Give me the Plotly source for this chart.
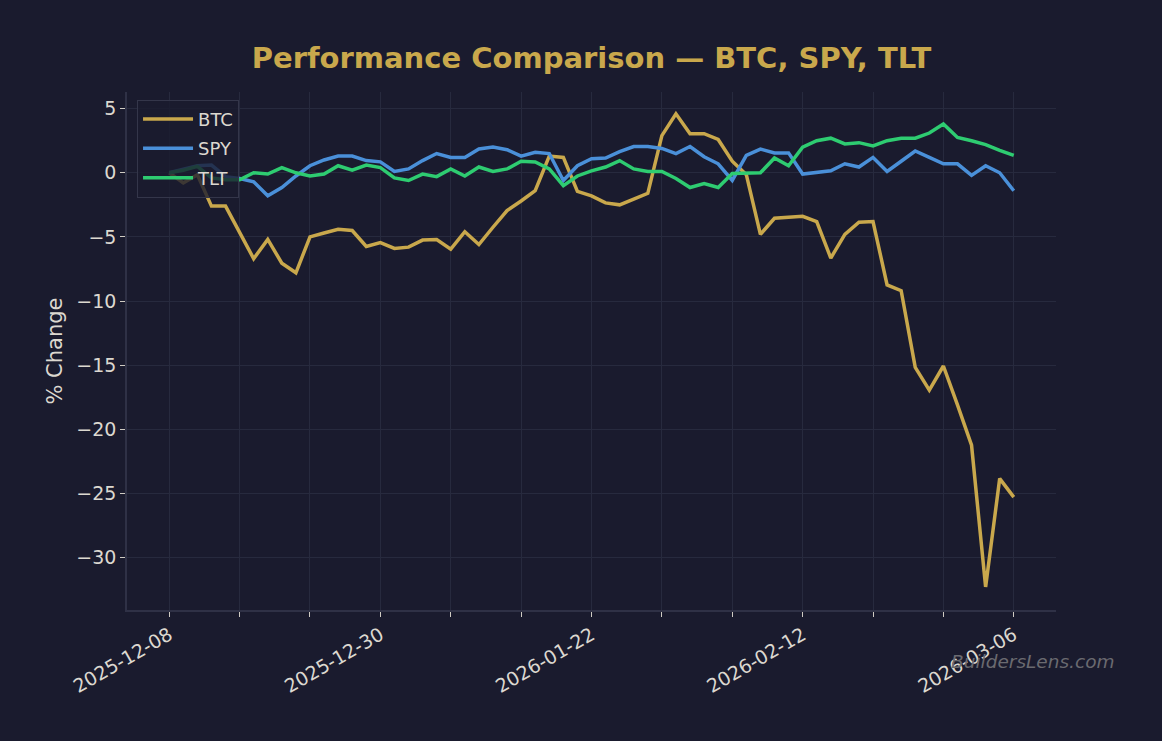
import plotly.graph_objects as go

dates = [
    "2025-12-08", "2025-12-09", "2025-12-10", "2025-12-11", "2025-12-12",
    "2025-12-15", "2025-12-16", "2025-12-17", "2025-12-18", "2025-12-19",
    "2025-12-22", "2025-12-23", "2025-12-24", "2025-12-26", "2025-12-29",
    "2025-12-30", "2025-12-31", "2026-01-02", "2026-01-05", "2026-01-06",
    "2026-01-07", "2026-01-08", "2026-01-09", "2026-01-12", "2026-01-13",
    "2026-01-14", "2026-01-15", "2026-01-16", "2026-01-20", "2026-01-21",
    "2026-01-22", "2026-01-23", "2026-01-26", "2026-01-27", "2026-01-28",
    "2026-01-29", "2026-01-30", "2026-02-02", "2026-02-03", "2026-02-04",
    "2026-02-05", "2026-02-06", "2026-02-09", "2026-02-10", "2026-02-11",
    "2026-02-12", "2026-02-13", "2026-02-17", "2026-02-18", "2026-02-19",
    "2026-02-20", "2026-02-23", "2026-02-24", "2026-02-25", "2026-02-26",
    "2026-02-27", "2026-03-02", "2026-03-03", "2026-03-04", "2026-03-05",
    "2026-03-06",
]

btc = [0, -0.8, -0.15, -2.6, -2.6, -4.7, -6.7, -5.2, -7.05, -7.8,
       -5.0, -4.7, -4.4, -4.5, -5.75, -5.45, -5.9, -5.8, -5.25, -5.2,
       -5.95, -4.6, -5.6, -4.25, -2.95, -2.2, -1.4, 1.3, 1.2, -1.45,
       -1.8, -2.35, -2.5, -2.05, -1.6, 2.9, 4.6, 3.05, 3.05, 2.6,
       0.9, -0.15, -4.8, -3.55, -3.45, -3.4, -3.8, -6.65, -4.8, -3.85,
       -3.8, -8.75, -9.2, -15.18, -16.95, -15.07, -18.1, -21.25, -32.3, -23.85,
       -25.3]

spy = [0, 0.3, 0.55, 0.6, -0.3, -0.45, -0.7, -1.8, -1.15, -0.25,
       0.55, 1.0, 1.3, 1.3, 0.95, 0.85, 0.1, 0.3, 0.95, 1.5,
       1.2, 1.2, 1.85, 2.0, 1.8, 1.3, 1.6, 1.5, -0.6, 0.55,
       1.1, 1.15, 1.65, 2.05, 2.05, 1.9, 1.5, 2.05, 1.25, 0.7,
       -0.6, 1.35, 1.85, 1.55, 1.55, -0.1, 0.0, 0.15, 0.7, 0.45,
       1.2, 0.1, 0.9, 1.7, 1.2, 0.7, 0.7, -0.2, 0.55, 0.0,
       -1.4]

tlt = [0, 0.2, 0.5, -0.4, -0.55, -0.55, 0.0, -0.1, 0.4, 0.0,
       -0.25, -0.1, 0.55, 0.2, 0.6, 0.4, -0.4, -0.6, -0.1, -0.3,
       0.3, -0.25, 0.45, 0.1, 0.3, 0.9, 0.85, 0.3, -1.0, -0.25,
       0.15, 0.45, 0.95, 0.3, 0.1, 0.1, -0.45, -1.15, -0.85, -1.15,
       -0.05, 0.0, 0.0, 1.15, 0.55, 2.0, 2.5, 2.7, 2.25, 2.35,
       2.1, 2.5, 2.7, 2.7, 3.1, 3.8, 2.75, 2.5, 2.2, 1.75,
       1.35]

label_dates = ["2025-12-08", "2025-12-30", "2026-01-22", "2026-02-12", "2026-03-06"]
y_ticks = [-30, -25, -20, -15, -10, -5, 0, 5]

series = [("BTC", btc, "#c9a84c"), ("SPY", spy, "#4a90d9"), ("TLT", tlt, "#2ecc71")]

BG = "#1a1b2e"
TXT = "#dcd8d0"
FONT = "DejaVu Sans"

fig = go.Figure()
for name, vals, color in series:
    fig.add_trace(go.Scatter(
        x=dates, y=vals, mode="lines", name=name, legendgroup=name,
        line=dict(color=color, width=3.5),
    ))

tick_vals = dates[::5]
tick_text = [d if d in label_dates else "" for d in tick_vals]

fig.update_layout(
    width=1162, height=741,
    paper_bgcolor=BG, plot_bgcolor=BG,
    margin=dict(l=127, r=106, t=92, b=131),
    font=dict(family=FONT, color=TXT, size=19),
    title=dict(
        text="<b>Performance Comparison — BTC, SPY, TLT</b>",
        x=0.5, xref="paper", xanchor="center",
        y=1 - 58 / 741, yref="container", yanchor="middle",
        font=dict(family=FONT, size=29, color="#c9a84c"),
    ),
    showlegend=True,
    legend=dict(
        x=0.0108, y=0.985, xanchor="left", yanchor="top",
        bgcolor="rgba(26,27,46,0.8)", bordercolor="#34364a", borderwidth=1,
        font=dict(family=FONT, size=18, color=TXT),
        tracegroupgap=3, itemwidth=50,
    ),
    xaxis=dict(
        type="category", range=[-3, 63],
        tickmode="array", tickvals=tick_vals, ticktext=tick_text,
        tickangle=-30, ticks="outside", ticklen=5, tickcolor="#cfcbc3", tickwidth=1,
        showgrid=True, gridcolor="#272a3e", gridwidth=1,
        showline=True, linecolor="#2f3146", linewidth=1.5,
        tickfont=dict(family=FONT, size=19, color=TXT),
        zeroline=False,
    ),
    yaxis=dict(
        range=[-34.1, 6.3],
        tickmode="array", tickvals=y_ticks,
        ticks="outside", ticklen=5, tickcolor="#cfcbc3", tickwidth=1,
        showgrid=True, gridcolor="#272a3e", gridwidth=1,
        showline=True, linecolor="#2f3146", linewidth=1.5,
        zeroline=False,
        tickfont=dict(family=FONT, size=19, color=TXT),
        title=dict(text="% Change", font=dict(family=FONT, size=21, color=TXT), standoff=8),
    ),
    annotations=[dict(
        text="BuildersLens.com", xref="paper", yref="paper",
        x=(1117 - 127) / 929, y=(610 - 661) / 518, xanchor="right", yanchor="middle",
        showarrow=False,
        font=dict(family=FONT, size=18.5, color="#6a6a70", style="italic"),
    )],
)

fig.write_html("out.html")
